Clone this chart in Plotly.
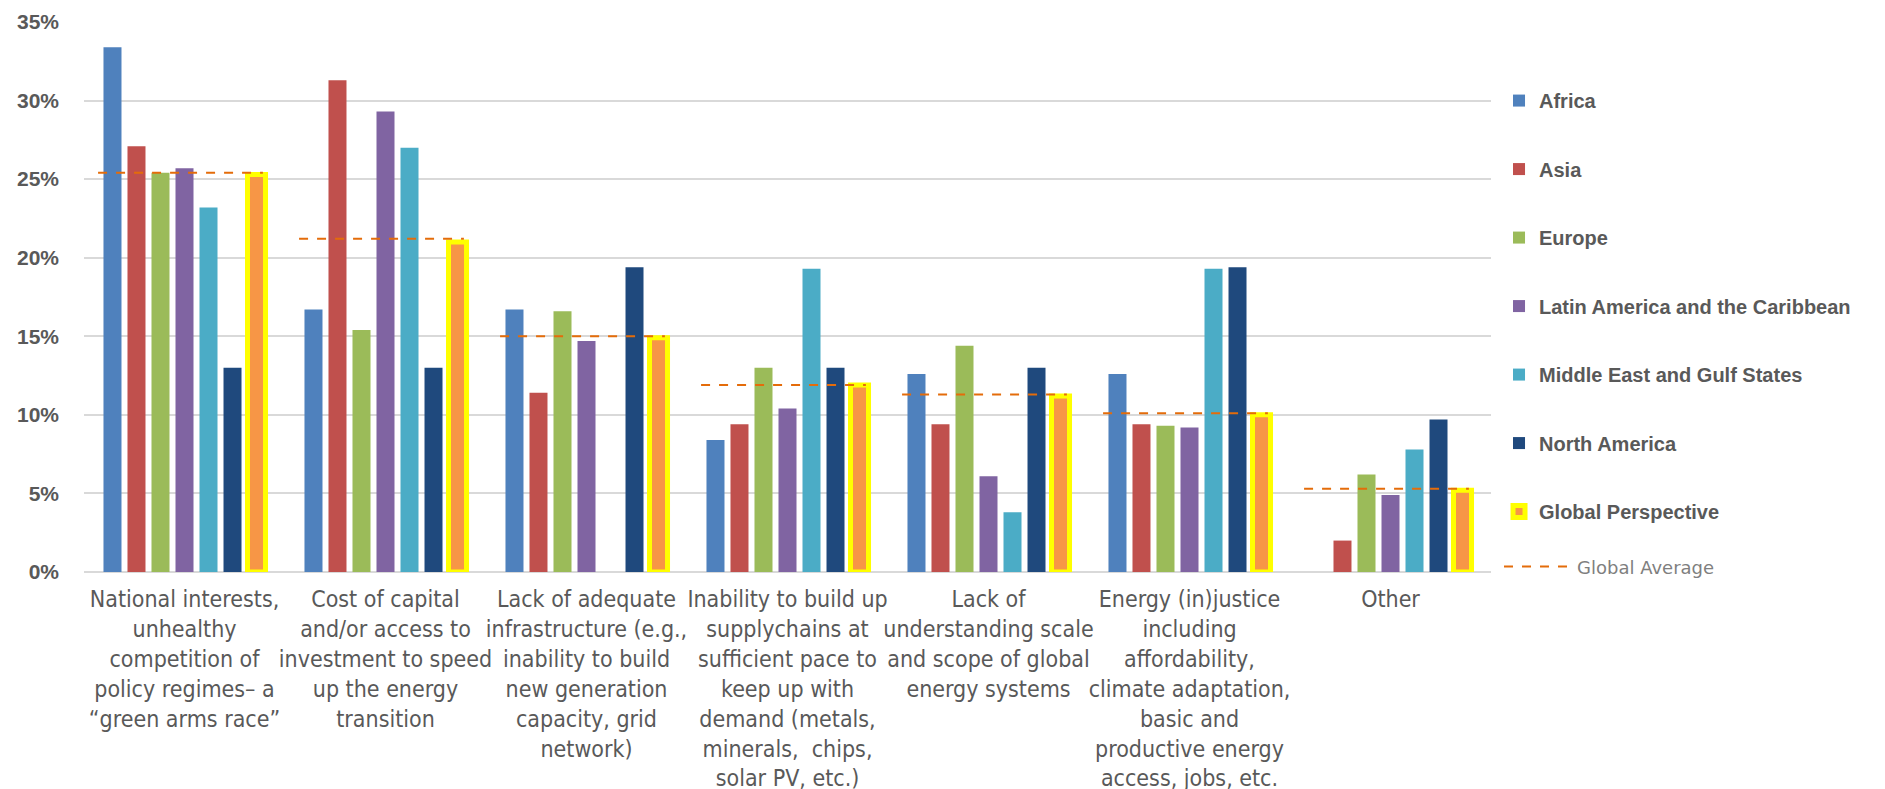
import plotly.graph_objects as go

categories = [
    "National interests,<br>unhealthy<br>competition of<br>policy regimes– a<br>“green arms race”",
    "Cost of capital<br>and/or access to<br>investment to speed<br>up the energy<br>transition",
    "Lack of adequate<br>infrastructure (e.g.,<br>inability to build<br>new generation<br>capacity, grid<br>network)",
    "Inability to build up<br>supplychains at<br>sufficient pace to<br>keep up with<br>demand (metals,<br>minerals,  chips,<br>solar PV, etc.)",
    "Lack of<br>understanding scale<br>and scope of global<br>energy systems",
    "Energy (in)justice<br>including<br>affordability,<br>climate adaptation,<br>basic and<br>productive energy<br>access, jobs, etc.",
    "Other",
]

y_tick_values = [0, 5, 10, 15, 20, 25, 30, 35]
y_tick_labels = ["0%", "5%", "10%", "15%", "20%", "25%", "30%", "35%"]

africa = [33.4, 16.7, 16.7, 8.4, 12.6, 12.6, 0]
asia = [27.1, 31.3, 11.4, 9.4, 9.4, 9.4, 2.0]
europe = [25.4, 15.4, 16.6, 13.0, 14.4, 9.3, 6.2]
latin_america = [25.7, 29.3, 14.7, 10.4, 6.1, 9.2, 4.9]
middle_east = [23.2, 27.0, 0, 19.3, 3.8, 19.3, 7.8]
north_america = [13.0, 13.0, 19.4, 13.0, 13.0, 19.4, 9.7]
global_perspective = [25.3, 21.0, 14.9, 11.9, 11.2, 10.0, 5.2]
global_average = [25.4, 21.2, 15.0, 11.9, 11.3, 10.1, 5.3]

series = [
    ("Africa", africa, "#4F81BD"),
    ("Asia", asia, "#C0504D"),
    ("Europe", europe, "#9BBB59"),
    ("Latin America and the Caribbean", latin_america, "#8064A2"),
    ("Middle East and Gulf States", middle_east, "#4BACC6"),
    ("North America", north_america, "#1F497D"),
]

xpos = list(range(len(categories)))
fig = go.Figure()

for i, (name, vals, col) in enumerate(series):
    fig.add_trace(go.Bar(
        x=xpos, y=vals, name="<b>" + name + "</b>", marker_color=col,
        marker_line_width=0, legendgroup=name, hoverinfo="y+name",
    ))

fig.add_trace(go.Bar(
    x=xpos, y=global_perspective, name="<b>Global Perspective</b>",
    marker=dict(color="#F79646", line=dict(color="#FFFF00", width=5)),
    legendgroup="global",
))

# global average dashed segments across each group
lx, ly = [], []
for i, v in enumerate(global_average):
    lx += [i - 0.43, i + 0.39, None]
    ly += [v, v, None]
fig.add_trace(go.Scatter(
    x=lx, y=ly, mode="lines", name="Global Average",
    line=dict(color="#E46C0A", width=2, dash="dash"), legend="legend2",
))

fig.update_layout(
    width=1885, height=789,
    paper_bgcolor="white", plot_bgcolor="white",
    margin=dict(l=76, r=402, t=14, b=225, autoexpand=False),
    barmode="group", bargap=0.164, bargroupgap=0.25,
    font=dict(family="Liberation Sans, Arial, sans-serif", color="#595959"),
    legend=dict(
        x=1.0057, y=0.8926, xanchor="left", yanchor="top",
        font=dict(size=20, color="#595959", family="Liberation Sans, Arial, sans-serif"),
        tracegroupgap=39.5, traceorder="grouped", itemwidth=30,
    ),
    legend2=dict(
        x=1.0057, y=0.043, xanchor="left", yanchor="top",
        font=dict(size=18, color="#7F7F7F", family="DejaVu Sans, sans-serif"),
        itemwidth=68,
    ),
    showlegend=True,
)

fig.update_xaxes(
    tickmode="array", tickvals=xpos, ticktext=categories,
    range=[-0.5, len(categories) - 0.5],
    showgrid=False, zeroline=False, showline=False, automargin=False,
    tickfont=dict(size=23, color="#595959",
                  family="Liberation Sans Narrow, DejaVu Sans Condensed, Liberation Sans, sans-serif"),
    ticks="", tickangle=0, ticklabelstandoff=11,
)
fig.update_yaxes(
    range=[0, 35], tickmode="array", tickvals=y_tick_values, ticktext=y_tick_labels,
    showgrid=True, gridcolor="#D9D9D9", gridwidth=1.5,
    zeroline=True, zerolinecolor="#D9D9D9", zerolinewidth=1.5,
    tickfont=dict(size=21, color="#595959", family="Liberation Sans, Arial, sans-serif", weight="bold"),
    ticklabelstandoff=24, showline=False, automargin=False,
)

fig.write_html("out.html")
